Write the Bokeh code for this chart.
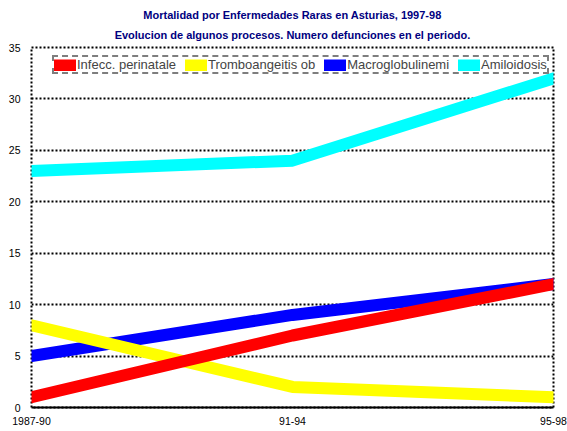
from bokeh.plotting import figure
from bokeh.models import Range1d, FixedTicker, Legend, LegendItem, Title
from bokeh.embed import file_html
from bokeh.resources import INLINE

periods = ["1987-90", "91-94", "95-98"]
series_names = ["Infecc. perinatale", "Tromboangeitis ob", "Macroglobulinemi", "Amiloidosis"]
infecc = [1, 7, 12]
trombo = [8, 2, 1]
macro = [5, 9, 12]
amilo = [23, 24, 32]
colors = ["#ff0000", "#ffff00", "#0000ff", "#00ffff"]
y_ticks = [0, 5, 10, 15, 20, 25, 30, 35]
title_lines = ["Mortalidad por Enfermedades Raras en Asturias, 1997-98",
               "Evolucion de algunos procesos. Numero defunciones en el periodo."]

xs = list(range(len(periods)))

p = figure(width=567, height=431, output_backend="svg", toolbar_location=None,
           x_range=Range1d(0, len(periods) - 1), y_range=Range1d(0, 35),
           min_border_left=31, min_border_right=14, min_border_top=47, min_border_bottom=24)

p.add_layout(Title(text=title_lines[1],
                   text_font="Liberation Sans", text_font_size="11px", text_font_style="bold",
                   text_color="#000080", align="center", text_line_height=0.8, standoff=13), "above")
p.add_layout(Title(text=title_lines[0],
                   text_font="Liberation Sans", text_font_size="11px", text_font_style="bold",
                   text_color="#000080", align="center", text_line_height=0.8, standoff=0), "above")

p.background_fill_color = "white"
p.border_fill_color = "white"
p.outline_line_color = "black"
p.outline_line_width = 2
p.outline_line_dash = "2 2"

p.xgrid.visible = False
p.ygrid.ticker = FixedTicker(ticks=y_ticks)
p.ygrid.grid_line_color = "black"
p.ygrid.grid_line_width = 2
p.ygrid.grid_line_dash = "2 2"

p.xaxis.ticker = FixedTicker(ticks=xs)
p.xaxis.major_label_overrides = {i: lab for i, lab in enumerate(periods)}
p.yaxis.ticker = FixedTicker(ticks=y_ticks)
for ax in (p.xaxis, p.yaxis):
    ax.major_tick_out = 0
    ax.major_tick_in = 0
    ax.minor_tick_out = 0
    ax.minor_tick_in = 0
    ax.major_label_text_font = "Liberation Sans"
    ax.major_label_text_font_size = "10.5px"
    ax.major_label_text_color = "black"
p.xaxis.axis_line_width = 2
p.xaxis.axis_line_color = "black"
p.xaxis.major_label_standoff = 9
p.yaxis.axis_line_color = None
p.yaxis.major_label_standoff = 11

data = [infecc, trombo, macro, amilo]
renderers = {}
for idx in [2, 1, 0, 3]:
    r = p.line(xs, data[idx], line_color=colors[idx], line_width=12,
               line_cap="round", line_join="round")
    renderers[idx] = r

items = [LegendItem(label=series_names[i], renderers=[renderers[i]]) for i in range(4)]
legend = Legend(items=items, orientation="horizontal", location=(21, 333),
                glyph_width=22, glyph_height=12, label_height=12, label_width=0,
                label_standoff=1, spacing=9, padding=0, margin=0,
                label_text_font="Liberation Sans", label_text_font_size="13px",
                border_line_color="black", border_line_width=2, border_line_dash="2 2",
                background_fill_color="white", background_fill_alpha=1)
p.add_layout(legend, "center")

open("out.html", "w").write(file_html(p, INLINE))
